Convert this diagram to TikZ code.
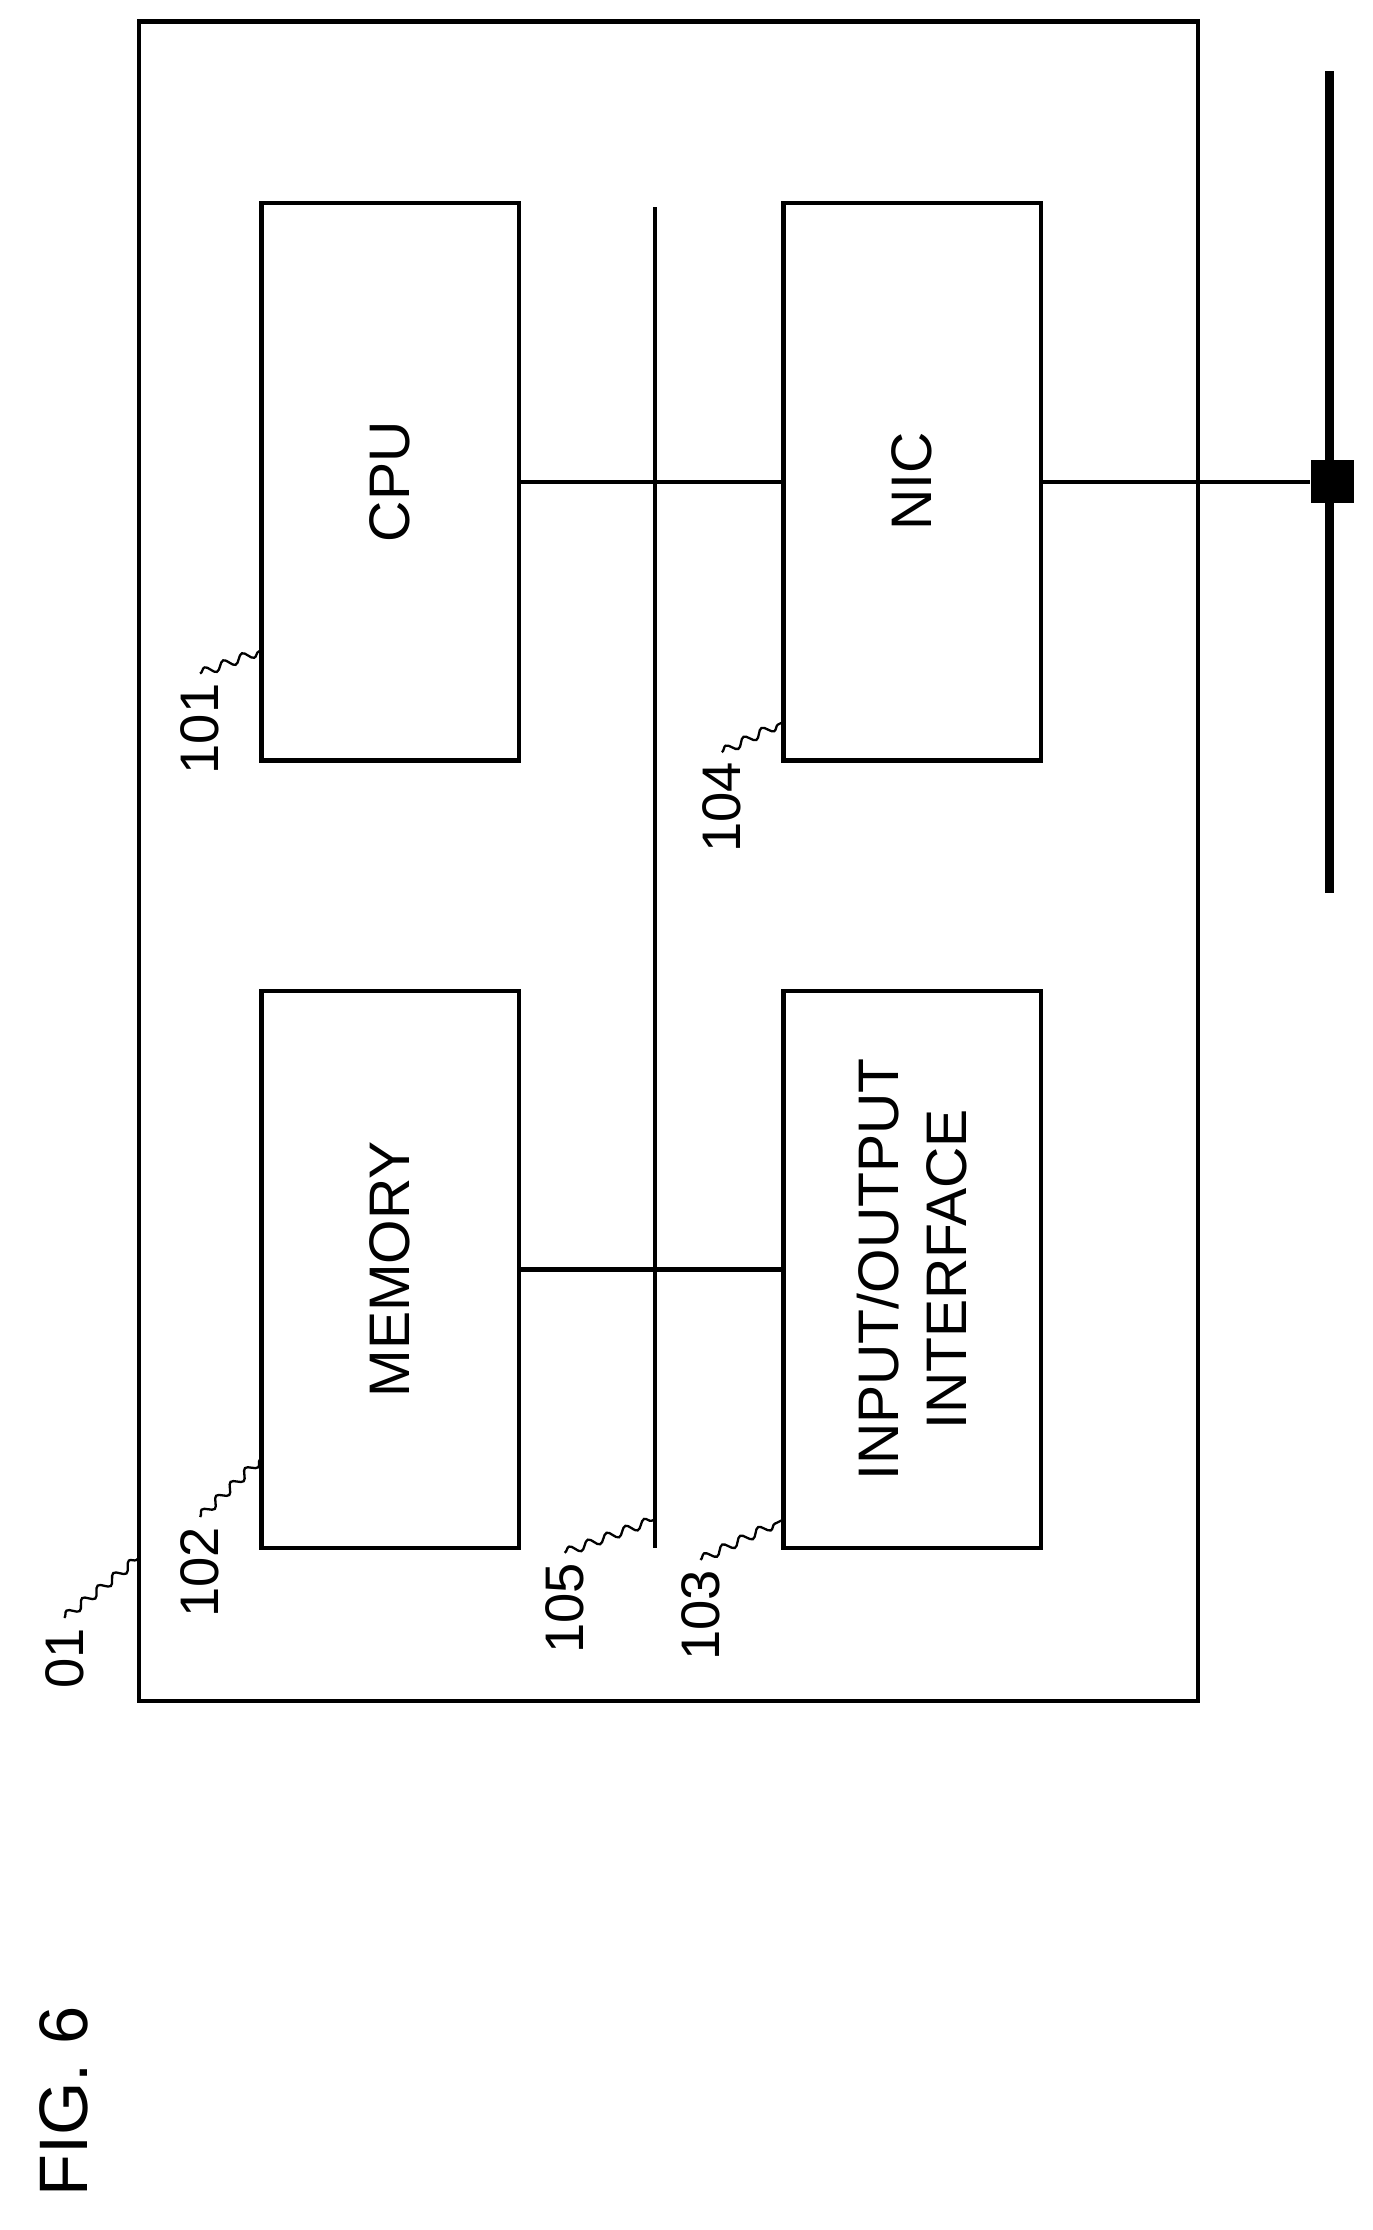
\documentclass[tikz,border=0pt]{standalone}
\usepackage{fontspec}
\setmainfont{Liberation Sans}
\usetikzlibrary{decorations.pathmorphing}
\begin{document}
\begin{tikzpicture}[x=0.5pt,y=-0.5pt,
  box/.style={draw,line width=1.5pt},
  txt/.style={rotate=90,font=\fontsize{20}{24}\selectfont,align=center},
  lbl/.style={rotate=90,font=\fontsize{19}{23}\selectfont},
  lead/.style={line width=0.8pt,decorate,decoration={snake,amplitude=1.5pt,segment length=7pt}},
  wire/.style={line width=1.5pt}]
\useasboundingbox (0,0) rectangle (960,1560);
\draw[box] (97,15) rectangle (838,1190);
\node[box,minimum width=90pt,minimum height=195pt] (cpu) at (273,337) {};
\node[txt] at (cpu) {CPU};
\node[box,minimum width=90pt,minimum height=195pt] (mem) at (273,888) {};
\node[txt] at (mem) {MEMORY};
\node[box,minimum width=90pt,minimum height=195pt] (nic) at (638,337) {};
\node[txt] at (nic) {NIC};
\node[box,minimum width=90pt,minimum height=195pt] (io) at (638,888) {};
\node[txt] at (io) {INPUT/OUTPUT\\INTERFACE};
\coordinate (bt) at (458,145); \coordinate (bb) at (458,1083);
\draw[wire] (bt) -- (bb);
\draw[wire] (cpu.east) -- (nic.west);
\draw[wire] (mem.east) -- (io.west);
\coordinate (nt) at (930,50); \coordinate (nb) at (930,625);
\draw[line width=3pt] (nt) -- (nb);
\node[fill=black,minimum size=15pt,inner sep=0] (sq) at (932,337) {};
\draw[wire] (nic.east) -- (sq.west);
% labels
\node[lbl] (l01) at (45,1160) {01};
\node[lbl] (l101) at (140,510) {101};
\node[lbl] (l102) at (140,1100) {102};
\node[lbl] (l105) at (395,1125) {105};
\node[lbl] (l103) at (490,1130) {103};
\node[lbl] (l104) at (505,565) {104};
\draw[lead] (l01.east) -- (97,1090);
\draw[lead] (l101.east) -- (183,455);
\draw[lead] (l102.east) -- (183,1020);
\draw[lead] (l105.east) -- (458,1063);
\draw[lead] (l103.east) -- (548,1063);
\draw[lead] (l104.east) -- (548,505);
\node[rotate=90,font=\fontsize{24}{28}\selectfont] (fig) at (45,1470) {FIG. 6};
\end{tikzpicture}
\end{document}
